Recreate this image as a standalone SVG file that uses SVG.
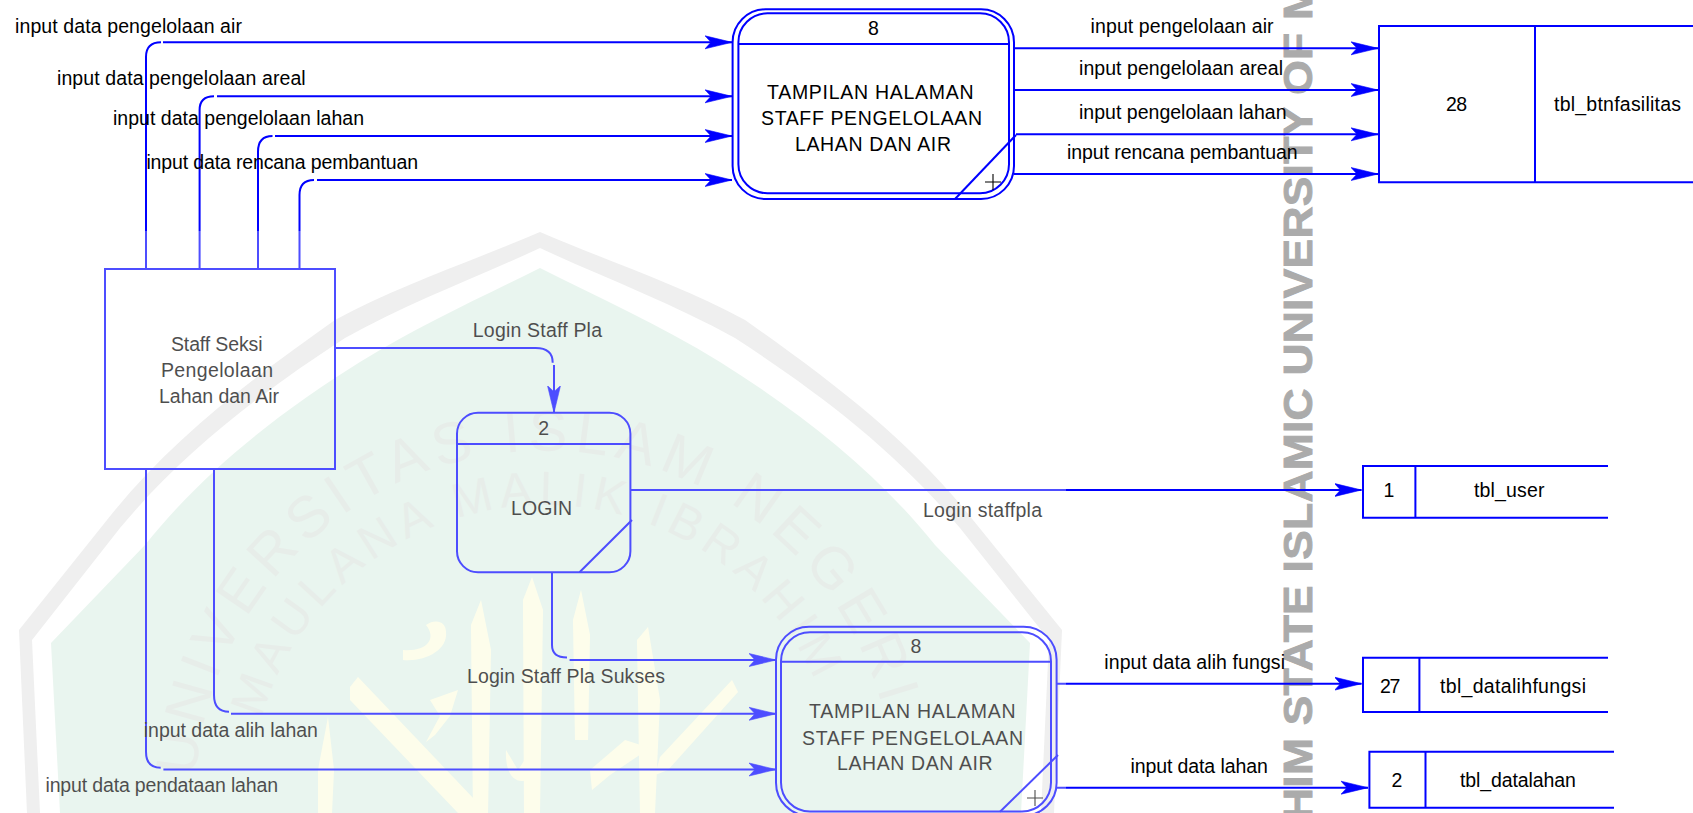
<svg xmlns="http://www.w3.org/2000/svg" width="1693" height="813" viewBox="0 0 1693 813">
  <style>
    text { font-family: "Liberation Sans", Arial, sans-serif; font-size: 19.5px; fill: #000; }
    .mid { text-anchor: middle; }
    .shape { fill: none; stroke: #0000ff; stroke-width: 2; }
    .flow { fill: none; stroke: #0000ff; stroke-width: 2; }
    .plus { fill: none; stroke: #000; stroke-width: 1.1; }
    .arc1 { font-size: 58px; fill: #dde5e0; }
    .arc2 { font-size: 48px; fill: #dde5e0; }
    .cal { fill: #fdfde2; }
    .vert { font-size: 44.4px; font-weight: bold; fill: #ababab; stroke: #ababab; stroke-width: 1; }
  </style>
  <defs>
    <marker id="arrow" markerUnits="userSpaceOnUse" markerWidth="30" markerHeight="16" refX="27" refY="7.5" orient="auto">
      <path d="M0 1 L27 7.5 L0 14 L6 7.5 Z" fill="#0000ff" stroke="#0000ff" stroke-width="0.6"/>
    </marker>
    <path id="arcOuter" d="M196 776 A350 350 0 0 1 881.4 703.5"/>
    <path id="arcInner" d="M261.4 718.7 A295 295 0 0 1 814.5 680"/>
  </defs>
  <rect width="1693" height="813" fill="#fff"/>

  <g id="watermark">
    <path d="M540 232 C470 262 400 285 335 320 C250 380 170 440 107 520 L19 630 L27 813 L40 813 L32 640 L120 528 C185 450 262 392 345 338 C410 302 480 276 540 248 C600 276 670 302 735 338 C818 392 895 450 960 528 L1049 640 L1041 813 L1054 813 L1062 630 L973 520 C910 440 830 380 745 320 C680 285 610 262 540 232 Z" fill="#e8e8e8"/>
    <path d="M540 268 C480 298 420 325 360 362 C280 412 205 470 145 545 L51 643 L60 813 L1021 813 L1030 643 L935 545 C875 470 800 412 720 362 C660 325 600 298 540 268 Z" fill="#e0f1e8"/>
    <text class="arc1"><textPath href="#arcOuter" textLength="977">UNIVERSITAS ISLAM NEGERI</textPath></text>
    <text class="arc2"><textPath href="#arcInner" textLength="721">MAULANA MALIK IBRAHIM</textPath></text>
    <g class="cal">
      <path d="M523 600 L532 577 L543 610 L540 813 L524 813 Z"/>
      <path d="M471 625 L481 600 L491 650 L488 813 L473 813 Z"/>
      <path d="M573 620 L581 590 L590 635 L588 740 L575 740 Z"/>
      <path d="M637 640 L648 627 L660 700 L655 813 L640 813 Z"/>
      <path d="M350 687 L358 677 L475 800 L480 813 L458 813 L350 700 Z"/>
      <path d="M732 680 L660 757 L655 775 L668 770 L738 692 Z"/>
      <path d="M318 770 L328 717 L334 770 L332 813 L318 813 Z"/>
      <path d="M403 650 C425 652 438 640 426 625 C436 618 446 622 446 632 C448 650 425 662 403 660 Z"/>
      <path d="M430 700 L458 690 L450 716 L435 735 L426 742 L440 716 Z"/>
      <path d="M590 770 L625 740 L650 748 L610 775 L592 790 Z"/>
      <path d="M506 750 C505 770 512 785 528 780 L526 758 L518 770 Z"/>
    </g>
  </g>

  <text id="side-text" class="vert" transform="translate(1311.5,820) rotate(-90) scale(1,0.92)" textLength="837">HIM STATE ISLAMIC UNIVERSITY OF M</text>

  <g id="connectors">
    <path class="flow" d="M146 269 V57 Q146 42.3 161 42.3"/>
    <path class="flow" d="M163 42.3 H732" marker-end="url(#arrow)"/>
    <path class="flow" d="M199.6 269 V110 Q199.6 96.3 214 96.3"/>
    <path class="flow" d="M217 96.3 H732" marker-end="url(#arrow)"/>
    <path class="flow" d="M258 269 V151.7 Q258 136 272.5 136"/>
    <path class="flow" d="M275 136 H732" marker-end="url(#arrow)"/>
    <path class="flow" d="M299.5 269 V195 Q299.5 180 314 180"/>
    <path class="flow" d="M317 180 H732" marker-end="url(#arrow)"/>

    <path class="flow" d="M1014 48.3 H1378" marker-end="url(#arrow)"/>
    <path class="flow" d="M1014 90 H1378" marker-end="url(#arrow)"/>
    <path class="flow" d="M1016 134.3 H1378" marker-end="url(#arrow)"/>
    <path class="flow" d="M1014 174 H1378" marker-end="url(#arrow)"/>

    <path class="flow" d="M335 348 H535.7 Q552.7 348 552.7 362.7"/>
    <path class="flow" d="M554 365 V412.7" marker-end="url(#arrow)"/>

    <path class="flow" d="M630.4 490 H1361.5" marker-end="url(#arrow)"/>

    <path class="flow" d="M552 572.3 V645 Q552 657.5 567 657.5"/>
    <path class="flow" d="M569.6 660 H776" marker-end="url(#arrow)"/>
    <path class="flow" d="M214 469 V695 Q214 711.7 229 711.7"/>
    <path class="flow" d="M231 713.8 H776" marker-end="url(#arrow)"/>
    <path class="flow" d="M146 469 V751.7 Q146 767.7 160.7 767.7"/>
    <path class="flow" d="M163.4 769.5 H776" marker-end="url(#arrow)"/>

    <path class="flow" d="M1057 683.7 H1361.5" marker-end="url(#arrow)"/>
    <path class="flow" d="M1057 787.7 H1368" marker-end="url(#arrow)"/>
  </g>

  <g id="flow-labels">
    <text x="15" y="32.7" textLength="227">input data pengelolaan air</text>
    <text x="57" y="85" textLength="248.7">input data pengelolaan areal</text>
    <text x="113" y="125" textLength="251">input data pengelolaan lahan</text>
    <text x="146.4" y="169" textLength="271.6">input data rencana pembantuan</text>
    <text x="1090.6" y="33.3" textLength="183">input pengelolaan air</text>
    <text x="1079" y="75" textLength="204">input pengelolaan areal</text>
    <text x="1079" y="119.3" textLength="207.5">input pengelolaan lahan</text>
    <text x="1067" y="159.3" textLength="230.6">input rencana pembantuan</text>
    <text x="472.8" y="336.7" textLength="129.2">Login Staff Pla</text>
    <text x="923" y="516.7" textLength="119">Login staffpla</text>
    <text x="467" y="682.7" textLength="198">Login Staff Pla Sukses</text>
    <text x="143.8" y="736.7" textLength="174.1">input data alih lahan</text>
    <text x="45.5" y="791.7" textLength="232.5">input data pendataan lahan</text>
    <text x="1104.3" y="668.7" textLength="180.7">input data alih fungsi</text>
    <text x="1130.4" y="772.7" textLength="137.4">input data lahan</text>
  </g>

  <g id="process-8-top">
    <rect class="shape" x="732.6" y="9.3" width="281.4" height="189.7" rx="33" ry="33"/>
    <rect class="shape" x="738.4" y="13.3" width="270.6" height="180" rx="29" ry="29"/>
    <path class="shape" d="M738.4 44 H1009"/>
    <path class="shape" d="M1016 135 L955 199"/>
    <path class="plus" d="M985 182 H1001 M993 174 V190"/>
    <text class="mid" x="873.5" y="35">8</text>
    <text x="767" y="99" textLength="206.5">TAMPILAN HALAMAN</text>
    <text x="761" y="125" textLength="221">STAFF PENGELOLAAN</text>
    <text x="795" y="150.7" textLength="156">LAHAN DAN AIR</text>
  </g>

  <g id="store-28">
    <path class="shape" d="M1693 26 H1379 V182.3 H1693 M1535 26 V182.3"/>
    <text x="1446" y="111" textLength="21">28</text>
    <text x="1554" y="111" textLength="127">tbl_btnfasilitas</text>
  </g>

  <g id="staff-entity">
    <rect class="shape" x="105" y="269" width="230" height="200"/>
    <text x="171" y="351" textLength="91.5">Staff Seksi</text>
    <text x="161" y="376.7" textLength="112">Pengelolaan</text>
    <text x="159" y="402.7" textLength="120">Lahan dan Air</text>
  </g>

  <g id="process-login">
    <rect class="shape" x="457" y="412.7" width="173.4" height="159.6" rx="21" ry="21"/>
    <path class="shape" d="M457 444 H630.4"/>
    <path class="shape" d="M632 520 L579.5 572.3"/>
    <text class="mid" x="543.7" y="435">2</text>
    <text x="511" y="515" textLength="61">LOGIN</text>
  </g>

  <g id="store-user">
    <path class="shape" d="M1608 466 H1363 V517.7 H1608 M1415.4 466 V517.7"/>
    <text class="mid" x="1389" y="497">1</text>
    <text x="1474" y="497" textLength="70.4">tbl_user</text>
  </g>

  <g id="store-datalihfungsi">
    <path class="shape" d="M1608 657.7 H1363 V712 H1608 M1419.4 657.7 V712"/>
    <text x="1380" y="692.7" textLength="20.4">27</text>
    <text x="1440" y="692.7" textLength="146">tbl_datalihfungsi</text>
  </g>

  <g id="store-datalahan">
    <path class="shape" d="M1614 751.7 H1369.4 V807.7 H1614 M1425.5 751.7 V807.7"/>
    <text class="mid" x="1397" y="786.7">2</text>
    <text x="1460" y="786.7" textLength="115.8">tbl_datalahan</text>
  </g>

  <g id="process-8-bottom">
    <rect class="shape" x="776" y="626.7" width="280.6" height="189" rx="33" ry="33"/>
    <rect class="shape" x="781" y="632.3" width="270" height="179.2" rx="29" ry="29"/>
    <path class="shape" d="M781 661.7 H1051"/>
    <path class="shape" d="M1058 755 L1000 811.7"/>
    <path class="plus" d="M1027 798 H1043 M1035 790 V806"/>
    <text class="mid" x="916" y="652.7">8</text>
    <text x="809" y="718.3" textLength="206.5">TAMPILAN HALAMAN</text>
    <text x="802" y="745" textLength="221">STAFF PENGELOLAAN</text>
    <text x="837" y="770" textLength="155.6">LAHAN DAN AIR</text>
  </g>

  <rect id="watermark-veil" x="15" y="231" width="1051" height="582" fill="#fff" fill-opacity="0.3"/>
</svg>
